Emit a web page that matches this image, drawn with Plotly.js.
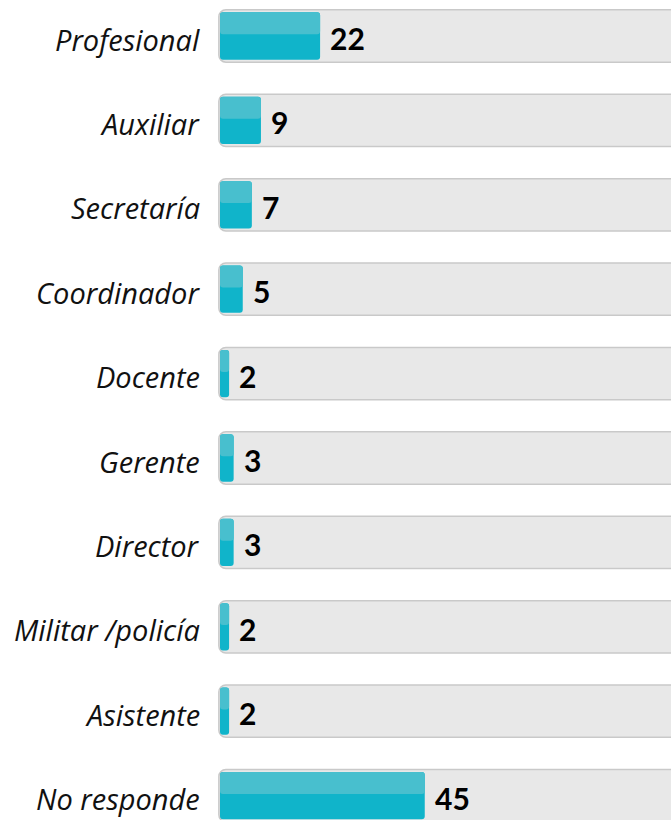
<!DOCTYPE html>
<html><head><meta charset="utf-8">
<script src="https://cdn.plot.ly/plotly-3.0.1.min.js"></script>
<style>html,body{margin:0;padding:0;background:#fff;}#chart{width:671px;height:820px;}</style>
</head><body><div id="chart"></div>
<script>
const categories = ["Profesional","Auxiliar","Secretaría","Coordinador","Docente","Gerente","Director","Militar /policía","Asistente","No responde"];
const values = [22, 9, 7, 5, 2, 3, 3, 2, 2, 45];

const trackEnd = 200;
const darkTeal = "#10B4CA", lightTeal = "#48BFCE";

const track = {
  type: 'bar', orientation: 'h', y: categories,
  base: categories.map(() => trackEnd),
  x: categories.map(() => -(trackEnd + 0.25)),
  width: 0.62,
  marker: {color: '#E8E8E8', line: {color: '#C9C9C9', width: 1.5}, cornerradius: 7},
  hoverinfo: 'skip', showlegend: false
};
const dark = {
  type: 'bar', orientation: 'h', y: categories,
  base: values, x: values.map(v => -v),
  width: 0.56,
  marker: {color: darkTeal, line: {width: 0}, cornerradius: 3},
  hoverinfo: 'skip', showlegend: false
};
const light = {
  type: 'bar', orientation: 'h', y: categories,
  base: values, x: values.map(v => -v),
  width: 0.26, offset: -0.28,
  marker: {color: lightTeal, line: {width: 0}, cornerradius: 3},
  hoverinfo: 'skip', showlegend: false
};

const labelAnn = categories.map(c => ({
  xref: 'paper', x: 0, xanchor: 'right', xshift: -8,
  yref: 'y', y: c, yshift: -3, showarrow: false, text: c,
  font: {family: '"Open Sans", sans-serif', size: 29, style: 'italic', color: '#111'}
}));
const valueAnn = values.map((v, i) => ({
  xref: 'x', x: v, xanchor: 'left', xshift: 8,
  yref: 'y', y: categories[i], yshift: -2, showarrow: false, text: '<b>' + v + '</b>',
  font: {family: 'Lato, sans-serif', size: 30, color: '#000'}
}));

const layout = {
  width: 671, height: 820,
  margin: {l: 210, r: 0, t: 0, b: 0, pad: 0},
  paper_bgcolor: '#fff', plot_bgcolor: '#fff',
  barmode: 'overlay',
  xaxis: {range: [-2.198, 99.12], showgrid: false, zeroline: false, showticklabels: false, showline: false, fixedrange: true},
  yaxis: {type: 'category', range: [9.289, -0.4265], showgrid: false, zeroline: false, showticklabels: false, showline: false, fixedrange: true},
  annotations: labelAnn.concat(valueAnn),
  showlegend: false
};

Plotly.newPlot('chart', [track, dark, light], layout, {displayModeBar: false, staticPlot: true});
</script>
</body></html>
